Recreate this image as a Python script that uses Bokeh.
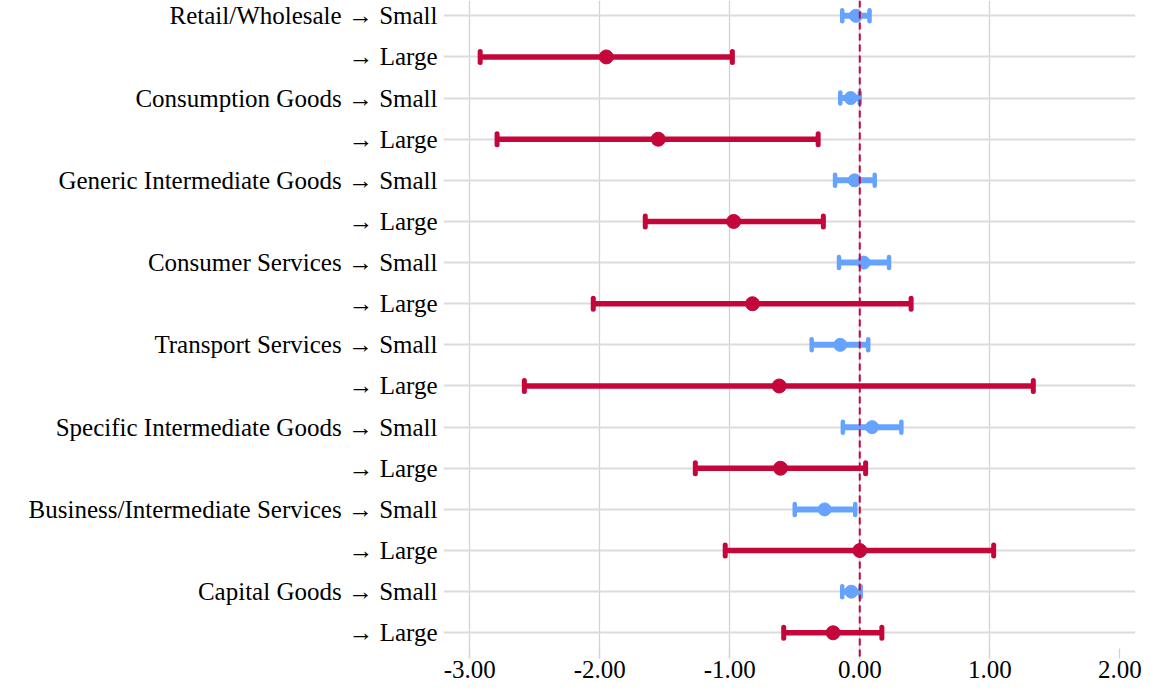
from bokeh.plotting import figure
from bokeh.models import (ColumnDataSource, Whisker, TeeHead, Span, Range1d,
                          FixedTicker, PrintfTickFormatter)
from bokeh.embed import file_html
from bokeh.resources import INLINE

# Sector estimates with confidence bounds, for switches to small and large firms
sectors = ["Retail/Wholesale", "Consumption Goods", "Generic Intermediate Goods",
           "Consumer Services", "Transport Services", "Specific Intermediate Goods",
           "Business/Intermediate Services", "Capital Goods"]

small_est = [-0.03, -0.07, -0.04, 0.03, -0.15, 0.095, -0.27, -0.065]
small_lo = [-0.135, -0.15, -0.19, -0.16, -0.37, -0.13, -0.50, -0.135]
small_hi = [0.075, 0.00, 0.115, 0.225, 0.065, 0.32, -0.035, 0.007]

large_est = [-1.95, -1.55, -0.97, -0.825, -0.62, -0.61, 0.0, -0.205]
large_lo = [-2.92, -2.79, -1.65, -2.05, -2.58, -1.265, -1.035, -0.585]
large_hi = [-0.98, -0.32, -0.28, 0.395, 1.335, 0.045, 1.03, 0.17]

x_ticks = [-3.0, -2.0, -1.0, 0.0, 1.0, 2.0]

RED = "#c4063b"
BLUE = "#66a3ff"
FONT = "Liberation Serif"

n_rows = 2 * len(sectors)
# row positions counted from the bottom so the first sector sits on top
small_y = [n_rows - 1 - 2 * i for i in range(len(sectors))]
large_y = [n_rows - 2 - 2 * i for i in range(len(sectors))]

labels = {}
for i, s in enumerate(sectors):
    labels[small_y[i]] = f"{s} \u2192 Small"
    labels[large_y[i]] = "\u2192 Large"

small_src = ColumnDataSource(dict(y=small_y, est=small_est, lo=small_lo, hi=small_hi))
large_src = ColumnDataSource(dict(y=large_y, est=large_est, lo=large_lo, hi=large_hi))

p = figure(width=1151, height=690, output_backend="svg", toolbar_location=None,
           x_range=Range1d(-3.202, 2.121), y_range=Range1d(-0.625, n_rows - 1 + 0.372),
           min_border_left=443, min_border_right=16, min_border_top=0,
           min_border_bottom=32)
p.outline_line_color = None
p.background_fill_color = "white"
p.border_fill_color = "white"

# x axis
xa = p.xaxis[0]
xa.ticker = FixedTicker(ticks=x_ticks)
xa.formatter = PrintfTickFormatter(format="%.2f")
xa.axis_line_color = None
xa.major_tick_in = 10
xa.major_tick_out = 0
xa.major_tick_line_color = "#d3d3d3"
xa.major_tick_line_width = 1.3
xa.minor_tick_line_color = None
xa.major_label_text_font = FONT
xa.major_label_text_font_size = "25px"
xa.major_label_text_color = "black"
xa.major_label_standoff = 2

# y axis
ya = p.yaxis[0]
ya.ticker = FixedTicker(ticks=list(range(n_rows)))
ya.major_label_overrides = labels
ya.axis_line_color = None
ya.major_tick_in = 0
ya.major_tick_out = 0
ya.minor_tick_line_color = None
ya.major_label_text_font = FONT
ya.major_label_text_font_size = "25px"
ya.major_label_text_color = "black"
ya.major_label_standoff = 6

# grids
p.xgrid.ticker = FixedTicker(ticks=x_ticks[:-1])
p.xgrid.grid_line_color = "#d3d3d3"
p.xgrid.grid_line_width = 1.3
p.ygrid.ticker = FixedTicker(ticks=list(range(n_rows)))
p.ygrid.grid_line_color = "#dcdcdc"
p.ygrid.grid_line_width = 2


def add_series(src, color, bar_w, cap_w, dot_size):
    head = dict(size=11, line_color=color, line_width=cap_w, line_cap="round")
    w = Whisker(source=src, base="y", lower="lo", upper="hi", dimension="width",
                line_color=color, line_width=bar_w,
                lower_head=TeeHead(**head), upper_head=TeeHead(**head))
    p.add_layout(w)
    p.scatter("est", "y", source=src, size=dot_size, color=color, level="annotation")


add_series(large_src, RED, 5.5, 5, 14)
add_series(small_src, BLUE, 6, 4.5, 13)

# reference line at zero
p.add_layout(Span(location=0, dimension="height", line_color=RED, line_width=2,
                  line_dash="7 4", level="overlay"))

open("out.html", "w").write(file_html(p, INLINE))
